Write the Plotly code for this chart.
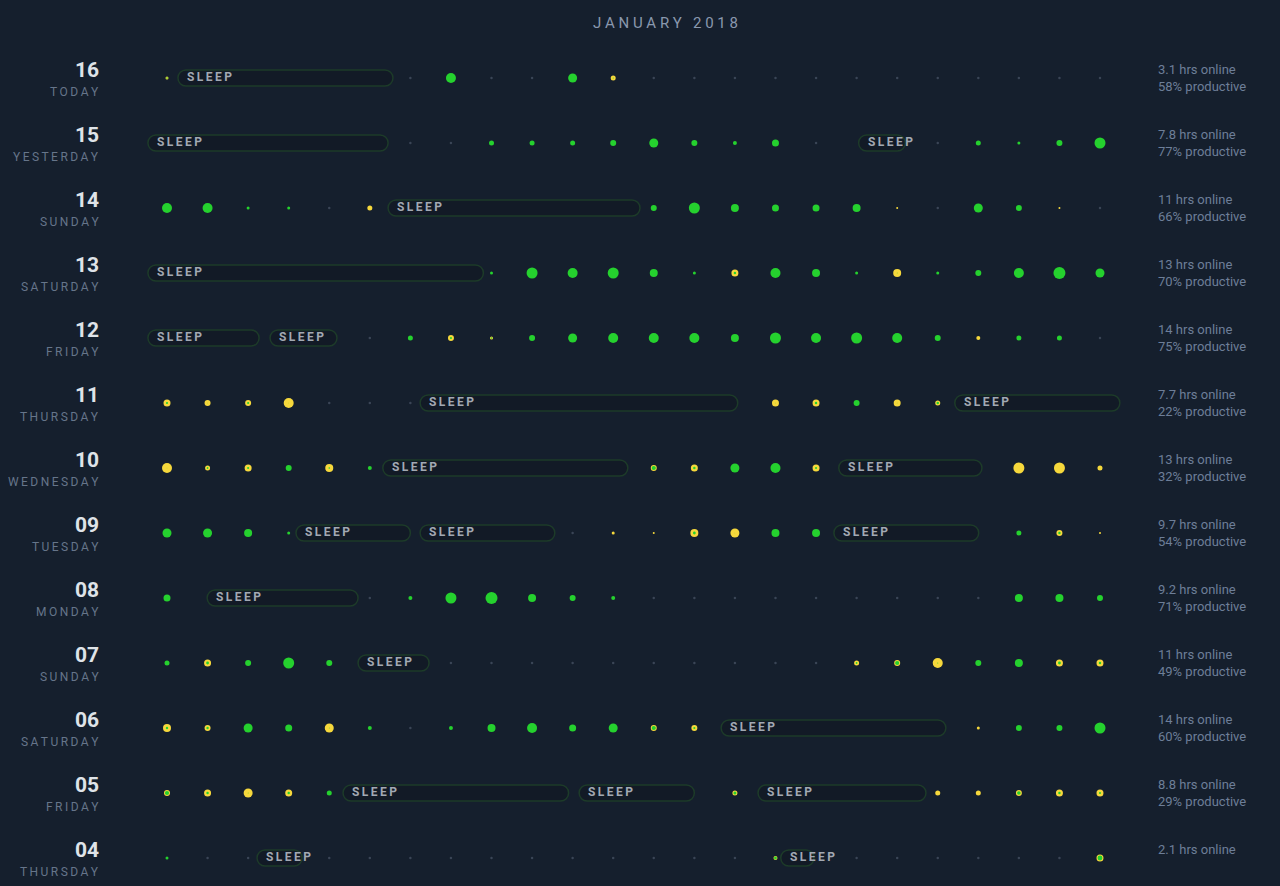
import plotly.graph_objects as go

# Dias (de cima para baixo)
days = ["16", "15", "14", "13", "12", "11", "10", "09", "08", "07", "06", "05", "04"]
weekdays = ["TODAY", "YESTERDAY", "SUNDAY", "SATURDAY", "FRIDAY", "THURSDAY", "WEDNESDAY",
            "TUESDAY", "MONDAY", "SUNDAY", "SATURDAY", "FRIDAY", "THURSDAY"]
hrs_online = ["3.1", "7.8", "11", "13", "14", "7.7", "13", "9.7", "9.2", "11", "14", "8.8", "2.1"]
productive = [58, 77, 66, 70, 75, 22, 32, 54, 71, 49, 60, 29, None]

# Tamanho do ponto (px) por hora, 0 = sem atividade
size_16 = [3, 0, 0, 0, 0, 0, 0, 10, 0, 0, 9, 5, 0, 0, 0, 0, 0, 0, 0, 0, 0, 0, 0, 0]
size_15 = [0, 0, 0, 0, 0, 0, 0, 0, 5, 5, 5, 6, 9, 6, 4, 7, 0, 0, 0, 0, 5, 3, 6, 11]
size_14 = [10, 10, 3, 3, 0, 5, 0, 0, 0, 0, 0, 0, 6, 11, 8, 7, 7, 8, 2, 0, 9, 6, 2, 0]
size_13 = [0, 0, 0, 0, 0, 0, 0, 0, 3, 11, 10, 11, 8, 3, 7, 10, 8, 3, 8, 3, 6, 10, 12, 9]
size_12 = [0, 0, 0, 0, 0, 0, 5, 6, 3, 6, 9, 10, 10, 10, 8, 11, 10, 11, 10, 6, 4, 5, 5, 0]
size_11 = [7, 6, 6, 10, 0, 0, 0, 0, 0, 0, 0, 0, 0, 0, 0, 7, 7, 6, 7, 5, 0, 0, 0, 0]
size_10 = [10, 5, 7, 6, 8, 4, 0, 0, 0, 0, 0, 0, 6, 7, 9, 10, 7, 0, 0, 0, 0, 11, 11, 5]
size_09 = [9, 9, 8, 3, 0, 0, 0, 0, 0, 0, 0, 3, 2, 8, 9, 8, 8, 0, 0, 0, 0, 5, 6, 2]
size_08 = [7, 0, 0, 0, 0, 0, 4, 11, 12, 8, 6, 4, 0, 0, 0, 0, 0, 0, 0, 0, 0, 8, 8, 6]
size_07 = [5, 7, 6, 11, 6, 0, 0, 0, 0, 0, 0, 0, 0, 0, 0, 0, 0, 5, 6, 10, 6, 8, 7, 7]
size_06 = [8, 6, 9, 7, 9, 4, 0, 4, 8, 10, 7, 9, 6, 6, 0, 0, 0, 0, 0, 0, 3, 6, 6, 11]
size_05 = [6, 7, 9, 7, 5, 0, 0, 0, 0, 0, 0, 0, 0, 0, 5, 0, 0, 0, 0, 5, 5, 6, 7, 7]
size_04 = [3, 0, 0, 0, 0, 0, 0, 0, 0, 0, 0, 0, 0, 0, 0, 4, 0, 0, 0, 0, 0, 0, 0, 7]

# Fração produtiva de cada hora (1 = verde, 0 = amarelo)
prod_16 = [0.5, 0, 0, 0, 0, 0, 0, 1, 0, 0, 1, 0.2, 0, 0, 0, 0, 0, 0, 0, 0, 0, 0, 0, 0]
prod_15 = [0, 0, 0, 0, 0, 0, 0, 0, 1, 1, 1, 1, 1, 1, 1, 1, 0, 0, 0, 0, 1, 1, 1, 1]
prod_14 = [1, 1, 1, 1, 0, 0, 0, 0, 0, 0, 0, 0, 1, 1, 1, 1, 1, 1, 0, 0, 1, 1, 0, 0]
prod_13 = [0, 0, 0, 0, 0, 0, 0, 0, 1, 1, 1, 1, 1, 1, 0.35, 1, 1, 1, 0.1, 1, 1, 1, 1, 1]
prod_12 = [0, 0, 0, 0, 0, 0, 1, 0.35, 0.5, 1, 1, 1, 1, 1, 1, 1, 1, 1, 1, 1, 0, 1, 1, 0]
prod_11 = [0.3, 0.1, 0.35, 0.05, 0, 0, 0, 0, 0, 0, 0, 0, 0, 0, 0, 0.1, 0.35, 1, 0.1, 0.5, 0, 0, 0, 0]
prod_10 = [0.05, 0.35, 0.3, 1, 0.2, 1, 0, 0, 0, 0, 0, 0, 0.7, 0.35, 1, 1, 0.3, 0, 0, 0, 0, 0, 0, 0.1]
prod_09 = [1, 1, 1, 1, 0, 0, 0, 0, 0, 0, 0, 0, 0, 0.35, 0.05, 1, 1, 0, 0, 0, 0, 1, 0.4, 0]
prod_08 = [1, 0, 0, 0, 0, 0, 1, 1, 1, 1, 1, 1, 0, 0, 0, 0, 0, 0, 0, 0, 0, 1, 1, 1]
prod_07 = [1, 0.4, 1, 1, 1, 0, 0, 0, 0, 0, 0, 0, 0, 0, 0, 0, 0, 0.35, 0.7, 0.1, 1, 1, 0.4, 0.35]
prod_06 = [0.3, 0.4, 1, 1, 0.1, 1, 0, 1, 1, 1, 1, 1, 0.7, 0.35, 0, 0, 0, 0, 0, 0, 0, 1, 1, 1]
prod_05 = [0.7, 0.35, 0.1, 0.35, 1, 0, 0, 0, 0, 0, 0, 0, 0, 0, 0.6, 0, 0, 0, 0, 0, 0, 0.6, 0.35, 0.3]
prod_04 = [1, 0, 0, 0, 0, 0, 0, 0, 0, 0, 0, 0, 0, 0, 0, 0.7, 0, 0, 0, 0, 0, 0, 0, 0.7]

# Períodos de sono (hora inicial, hora final)
sleep_16 = [(0.27, 5.57)]
sleep_15 = [(-0.47, 5.45), (17.05, 18.2)]
sleep_14 = [(5.45, 11.66)]
sleep_13 = [(-0.47, 7.8)]
sleep_12 = [(-0.47, 2.27), (2.54, 4.19)]
sleep_11 = [(6.24, 14.07), (19.42, 23.49)]
sleep_10 = [(5.32, 11.36), (16.56, 20.09)]
sleep_09 = [(3.18, 6.0), (6.24, 9.56), (16.44, 20.01)]
sleep_08 = [(0.99, 4.71)]
sleep_07 = [(4.71, 6.46)]
sleep_06 = [(13.66, 19.2)]
sleep_05 = [(4.34, 9.9), (10.16, 13.0), (14.57, 18.71)]
sleep_04 = [(2.22, 3.33), (15.13, 15.95)]

sizes = [size_16, size_15, size_14, size_13, size_12, size_11, size_10,
         size_09, size_08, size_07, size_06, size_05, size_04]
shares = [prod_16, prod_15, prod_14, prod_13, prod_12, prod_11, prod_10,
          prod_09, prod_08, prod_07, prod_06, prod_05, prod_04]
sleeps = [sleep_16, sleep_15, sleep_14, sleep_13, sleep_12, sleep_11, sleep_10,
          sleep_09, sleep_08, sleep_07, sleep_06, sleep_05, sleep_04]

# Cores
BG = "#151f2d"
GREEN = "#25d12e"
YELLOW = "#f6d83c"
GRAY = "#3a4556"

# Escala (px por hora / px por linha)
W, H = 1280, 886
PX_HOUR, X0_PX = 40.565, 167
PX_ROW, Y0_PX = 65, 78

THIN = "\u2009"


def spaced(s):
    return THIN.join(s)


gray_x, gray_y = [], []
out_x, out_y, out_s, out_c = [], [], [], []
in_x, in_y, in_s = [], [], []

for r in range(len(days)):
    for h in range(24):
        s = sizes[r][h]
        p = shares[r][h]
        covered = any(a - 0.1 <= h <= b + 0.1 for a, b in sleeps[r])
        if s == 0:
            if not covered:
                gray_x.append(h)
                gray_y.append(r)
            continue
        out_x.append(h)
        out_y.append(r)
        out_s.append(s)
        out_c.append(GREEN if p >= 1 else YELLOW)
        if 0 < p < 1:
            in_x.append(h)
            in_y.append(r)
            in_s.append(s * p)

fig = go.Figure()
fig.add_trace(go.Scatter(x=gray_x, y=gray_y, mode='markers', hoverinfo='skip',
                         marker=dict(size=2.5, color=GRAY, opacity=1, line=dict(width=0))))
fig.add_trace(go.Scatter(x=out_x, y=out_y, mode='markers', hoverinfo='skip',
                         marker=dict(size=out_s, color=out_c, opacity=1, line=dict(width=0))))
fig.add_trace(go.Scatter(x=in_x, y=in_y, mode='markers', hoverinfo='skip',
                         marker=dict(size=in_s, color=GREEN, opacity=1, line=dict(width=0))))

# Pílulas de sono
rx = 8 / PX_HOUR
hh = 8 / PX_ROW
k = 0.5523


def pill_path(a, b, r):
    t, btm = r - hh, r + hh
    return (f"M{a + rx},{t} L{b - rx},{t} "
            f"C{b - rx + k * rx},{t} {b},{r - k * hh} {b},{r} "
            f"C{b},{r + k * hh} {b - rx + k * rx},{btm} {b - rx},{btm} "
            f"L{a + rx},{btm} "
            f"C{a + rx - k * rx},{btm} {a},{r + k * hh} {a},{r} "
            f"C{a},{r - k * hh} {a + rx - k * rx},{t} {a + rx},{t} Z")


shapes = []
annotations = []
for r, periods in enumerate(sleeps):
    for a, b in periods:
        shapes.append(dict(type='path', path=pill_path(a, b, r), xref='x', yref='y',
                           line=dict(color="#1d3b29", width=1.5), fillcolor="#121a26",
                           layer='below'))
        annotations.append(dict(x=a, y=r, xref='x', yref='y', text=spaced("SLEEP"),
                                showarrow=False, xanchor='left', yanchor='middle',
                                xshift=7, yshift=1,
                                font=dict(family="Roboto", size=12, color="#a2a9b3", weight='bold')))

# Rótulos dos dias
label_x = (101 - X0_PX) / PX_HOUR
for r in range(len(days)):
    annotations.append(dict(x=label_x, y=r, xref='x', yref='y', text=days[r],
                            showarrow=False, xanchor='right', yanchor='middle', yshift=8,
                            font=dict(family="Roboto", size=21, color="#dfe3e8", weight='bold')))
    annotations.append(dict(x=label_x, y=r, xref='x', yref='y', text=spaced(weekdays[r]),
                            showarrow=False, xanchor='right', yanchor='middle', yshift=-14,
                            font=dict(family="Roboto", size=12, color="#66758a")))
    txt = f"{hrs_online[r]} hrs online"
    if productive[r] is not None:
        txt += f"<br>{productive[r]}% productive"
    annotations.append(dict(x=(1156 - X0_PX) / PX_HOUR, y=r, xref='x', yref='y', text=txt,
                            showarrow=False, xanchor='left', yanchor='top', yshift=18,
                            align='left',
                            font=dict(family="Roboto", size=13, color="#6d7e98")))

# Título
annotations.append(dict(x=665 / W, y=1 - 23 / H, xref='paper', yref='paper',
                        text=" ".join("JANUARY") + "   " + " ".join("2018"),
                        showarrow=False, xanchor='center', yanchor='middle',
                        font=dict(family="Roboto", size=15, color="#8a98ad")))

fig.update_layout(
    width=W, height=H,
    margin=dict(l=0, r=0, t=0, b=0),
    paper_bgcolor=BG, plot_bgcolor=BG,
    showlegend=False,
    xaxis=dict(visible=False, range=[-X0_PX / PX_HOUR, (W - X0_PX) / PX_HOUR], fixedrange=True),
    yaxis=dict(visible=False, range=[(H - Y0_PX) / PX_ROW, -Y0_PX / PX_ROW], fixedrange=True),
    shapes=shapes,
    annotations=annotations,
)

fig.write_html("out.html", config={'displayModeBar': False},
               post_script="document.body.style.margin='0';document.body.style.overflow='hidden';")
